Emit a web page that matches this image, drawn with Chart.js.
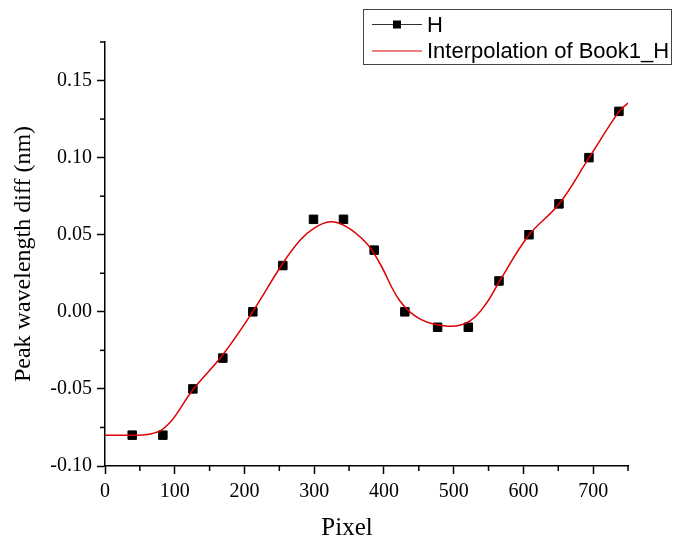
<!DOCTYPE html>
<html>
<head>
  <meta charset="utf-8">
  <title>Peak wavelength diff vs pixel</title>
  <script src="https://cdn.jsdelivr.net/npm/chart.js@4.4.0/dist/chart.umd.min.js"></script>
  <style>
    body { margin: 0; background: #fff; }
    #ctn { width: 677px; height: 540px; position: relative; }
  </style>
</head>
<body>
  <div id="ctn"><canvas id="chartEl"></canvas></div>

  <script>
    // measured points (H)
    const pixel = [39, 83, 126, 169, 212, 255, 299, 342, 386, 430, 477, 521, 565, 608, 651, 694, 737];
    const peakDiff = [-0.08, -0.08, -0.05, -0.03, 0.00, 0.03, 0.06, 0.06, 0.04, 0.00, -0.01, -0.01, 0.02, 0.05, 0.07, 0.10, 0.13];

    // interpolation curve of Book1_H, read along its length
    const curvePixel = [0, 39, 60, 79, 93, 103, 126, 169, 212, 255, 280, 299, 323, 346, 375, 394, 423, 452, 493, 523, 547, 566, 608, 651, 694, 737, 750];
    const curveDiff = [-0.080, -0.080, -0.0796, -0.0772, -0.0718, -0.0660, -0.0505, -0.0278, 0.0002, 0.0315, 0.0466, 0.0540, 0.0584, 0.0552, 0.0444, 0.0315, 0.0070, -0.0047, -0.0093, -0.0060, 0.0056, 0.0200, 0.0498, 0.0699, 0.0998, 0.1298, 0.1354];

    const xTicks = [0, 100, 200, 300, 400, 500, 600, 700];
    const yTicks = [-0.10, -0.05, 0.00, 0.05, 0.10, 0.15];

    const curveColor = 'rgb(220, 0, 0)';
    const serif = "'Liberation Serif', 'Times New Roman', serif";
    const sans = "'Liberation Sans', Arial, sans-serif";

    // short minor ticks between the labelled ones
    const minorTicks = {
      id: 'minorTicks',
      afterDraw(chart) {
        const ctx = chart.ctx;
        const area = chart.chartArea;
        ctx.save();
        ctx.strokeStyle = '#000';
        ctx.lineWidth = 1.5;
        chart.scales.x.ticks.forEach((t, i) => {
          if (i % 2 === 0) return;
          const px = chart.scales.x.getPixelForValue(t.value);
          ctx.beginPath();
          ctx.moveTo(px, area.bottom);
          ctx.lineTo(px, area.bottom + 5);
          ctx.stroke();
        });
        chart.scales.y.ticks.forEach((t, i) => {
          if (i % 2 === 0) return;
          const py = chart.scales.y.getPixelForValue(t.value);
          ctx.beginPath();
          ctx.moveTo(area.left, py);
          ctx.lineTo(area.left - 5, py);
          ctx.stroke();
        });
        ctx.restore();
      }
    };

    // x axis title, sitting a bit left of the axis centre
    const xTitle = {
      id: 'xTitle',
      afterDraw(chart) {
        const ctx = chart.ctx;
        ctx.save();
        ctx.fillStyle = '#000';
        ctx.font = `25px ${serif}`;
        ctx.textAlign = 'center';
        ctx.textBaseline = 'alphabetic';
        ctx.fillText('Pixel', 347, 535);
        ctx.restore();
      }
    };

    // boxed legend in the top right corner
    const boxLegend = {
      id: 'boxLegend',
      afterDraw(chart) {
        const ctx = chart.ctx;
        const ds = chart.data.datasets;
        const box = {x: 363.5, y: 9.5, w: 308, h: 55};
        ctx.save();
        ctx.fillStyle = '#fff';
        ctx.fillRect(box.x, box.y, box.w, box.h);
        ctx.strokeStyle = '#444';
        ctx.lineWidth = 1;
        ctx.strokeRect(box.x, box.y, box.w, box.h);

        ctx.font = `22px ${sans}`;
        ctx.textBaseline = 'middle';
        ctx.textAlign = 'left';

        // row 1: H, line + square
        let y = 24.5;
        ctx.strokeStyle = '#333';
        ctx.beginPath();
        ctx.moveTo(372, y);
        ctx.lineTo(422, y);
        ctx.stroke();
        ctx.fillStyle = '#000';
        ctx.fillRect(393, y - 4, 8, 8);
        ctx.fillText(ds[1].label, 427, y + 1);

        // row 2: interpolation curve
        y = 51;
        ctx.strokeStyle = curveColor;
        ctx.lineWidth = 1.2;
        ctx.beginPath();
        ctx.moveTo(372, y);
        ctx.lineTo(422, y);
        ctx.stroke();
        ctx.fillText(ds[0].label, 427, y + 1);
        ctx.restore();
      }
    };

    new Chart(chartEl, {
      type: 'scatter',
      plugins: [minorTicks, xTitle, boxLegend],
      data: {
        datasets: [{
          label: 'Interpolation of Book1_H',
          data: curvePixel.map((x, i) => ({x, y: curveDiff[i]})),
          showLine: true,
          borderColor: curveColor,
          borderWidth: 1.5,
          pointRadius: 0,
          tension: 0.4
        }, {
          label: 'H',
          data: pixel.map((x, i) => ({x, y: peakDiff[i]})),
          showLine: false,
          backgroundColor: '#000',
          borderColor: '#000',
          pointStyle: 'rect',
          pointRadius: 6,
          pointBorderWidth: 1
        }]
      },
      options: {
        responsive: true,
        maintainAspectRatio: false,
        animation: false,
        layout: { padding: {top: 42, right: 49, left: 0, bottom: 0} },
        plugins: {
          legend: { display: false },
          tooltip: { enabled: false }
        },
        scales: {
          x: {
            type: 'linear',
            min: 0,
            max: 750,
            afterFit: s => { s.height = 74; },
            border: { color: '#000', width: 1.5 },
            grid: {
              drawOnChartArea: false,
              tickLength: 8,
              tickWidth: 1.5,
              tickColor: c => c.index % 2 === 0 ? '#000' : 'rgba(0,0,0,0)'
            },
            ticks: {
              stepSize: 50,
              autoSkip: false,
              maxRotation: 0,
              padding: 6,
              color: '#000',
              font: { family: serif, size: 20 },
              callback: (v, i) => xTicks.includes(v) ? String(v) : ''
            }
          },
          y: {
            min: -0.1,
            max: 0.175,
            afterFit: s => { s.width = 105; },
            border: { color: '#000', width: 1.5 },
            grid: {
              drawOnChartArea: false,
              tickLength: 8,
              tickWidth: 1.5,
              tickColor: c => c.index % 2 === 0 ? '#000' : 'rgba(0,0,0,0)'
            },
            ticks: {
              stepSize: 0.025,
              autoSkip: false,
              padding: 5,
              color: '#000',
              font: { family: serif, size: 20 },
              callback: (v, i) => i % 2 === 0 ? v.toFixed(2) : ''
            },
            title: {
              display: true,
              text: 'Peak wavelength diff (nm)',
              color: '#000',
              font: { family: serif, size: 24 },
              padding: { top: 9, bottom: 0 }
            }
          }
        }
      }
    });
  </script>
</body>
</html>
